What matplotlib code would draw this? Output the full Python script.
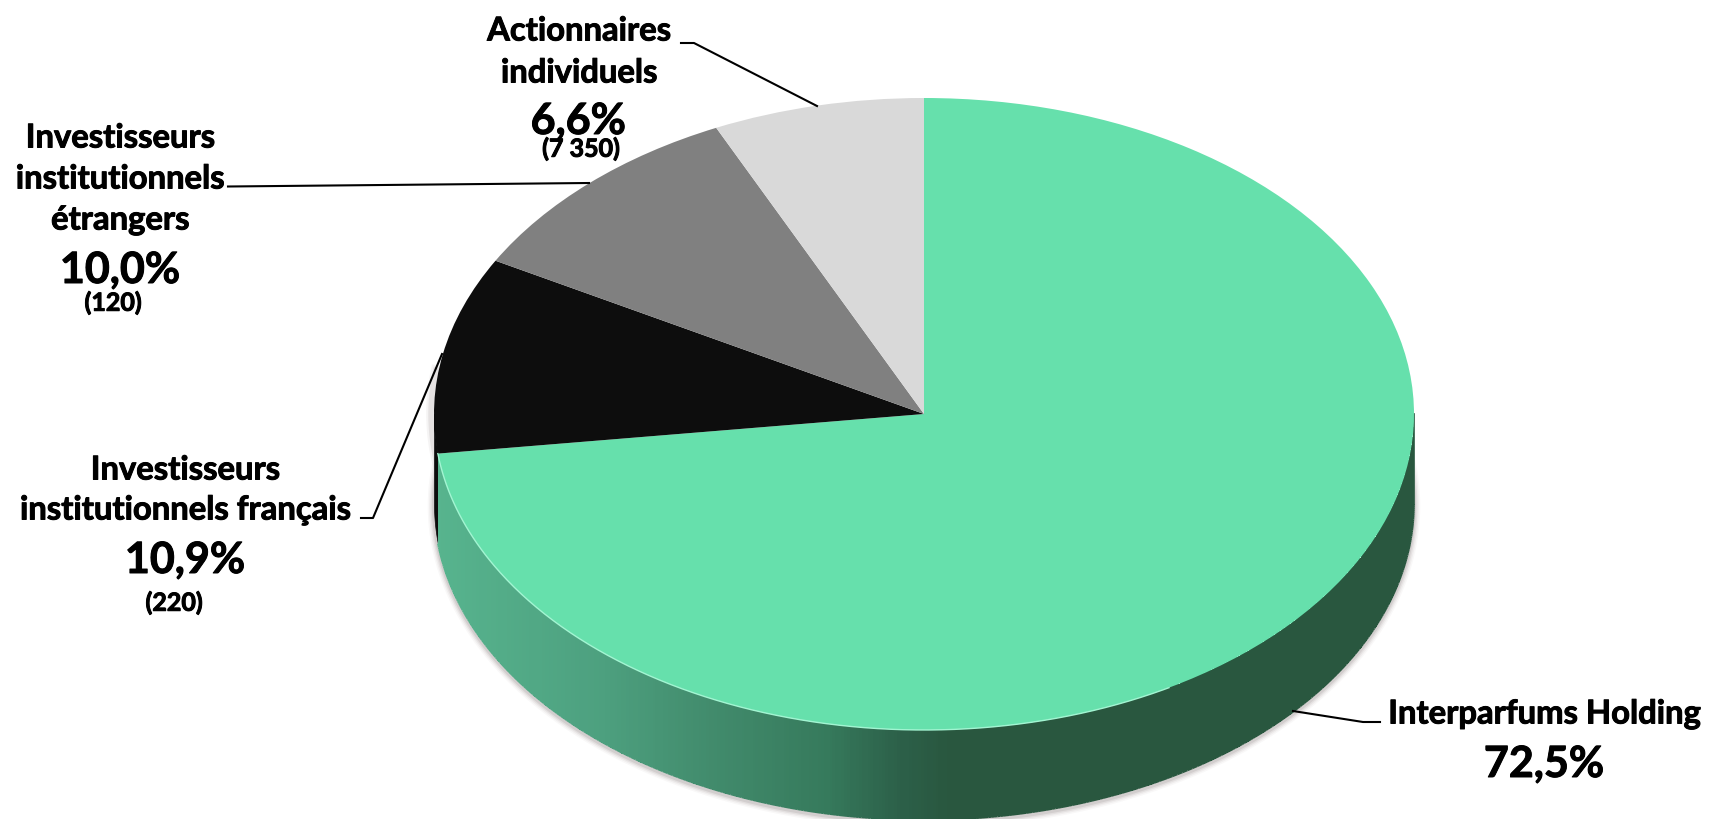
import numpy as np
import matplotlib
matplotlib.use("Agg")
import matplotlib.pyplot as plt
import matplotlib.patheffects as pe
from matplotlib.collections import LineCollection
from matplotlib.colors import LinearSegmentedColormap, Normalize

# ---- data ----
categories = ["Interparfums Holding", "Investisseurs\ninstitutionnels français",
              "Investisseurs\ninstitutionnels\nétrangers", "Actionnaires\nindividuels"]
shares = [72.5, 10.9, 10.0, 6.6]
drawn_slices = [73.0, 10.06, 9.97, 6.97]   # slice sizes as measured on the drawing
share_labels = ["72,5%", "10,9%", "10,0%", "6,6%"]
count_labels = [None, "(220)", "(120)", "(7 350)"]
colors = ["#66E0AC", "#0D0D0D", "#808080", "#D9D9D9"]

W, H = 1710, 819
CX, CY, RX, RY, DEPTH = 924, 414, 490, 316, 90
FONT = "Lato"

fig = plt.figure(figsize=(W / 100, H / 100), dpi=100, facecolor="white")
ax = fig.add_axes([0, 0, 1, 1])
ax.pie(drawn_slices, colors=colors, startangle=90, counterclock=False, radius=1,
       wedgeprops=dict(linewidth=0, zorder=5))
ax.set_aspect("auto")
ax.set_xlim(-CX / RX, (W - CX) / RX)
ax.set_ylim((CY - H) / RY, CY / RY)
ax.axis("off")

d = DEPTH / RY
green_end = 90 - drawn_slices[0] * 3.6 + 360          # ellipse angle where the main slice ends
t_green = np.radians(np.linspace(green_end, 360, 500))
t_black = np.radians(np.linspace(180, green_end, 30))
t_low = np.radians(np.linspace(172, 368, 500))

# soft shadow round the lower rim
for lw, a in [(9, .05), (7, .08), (5, .12), (3, .18)]:
    ax.plot(np.cos(t_low), np.sin(t_low) - d - .006, color="#8a7f7f", lw=lw, alpha=a,
            zorder=1, solid_capstyle="round")
t_side = np.radians(np.linspace(172, 190, 40))
for lw, a in [(7, .08), (4, .15)]:
    ax.plot(np.cos(t_side) - .006, np.sin(t_side), color="#8a7f7f", lw=lw, alpha=a, zorder=1)

# black rim on the far left
ax.fill_between(np.cos(t_black), np.sin(t_black), np.sin(t_black) - d, color=colors[1], lw=0.5, zorder=2)

# shaded rim of the main slice: colour runs with x across the rim
rim_cmap = LinearSegmentedColormap.from_list(
    "rim", [(0, "#57B48E"), (.17, "#4DA07F"), (.2775, "#428C6D"), (.4, "#367A5C"),
            (.475, "#2C6049"), (.525, "#29573F"), (1, "#29573F")])
norm = Normalize(-1, 1)
X = np.vstack([np.cos(t_green), np.cos(t_green)])
Y = np.vstack([np.sin(t_green), np.sin(t_green) - d])
xmid = (X[0, :-1] + X[0, 1:]) / 2
ax.pcolormesh(X, Y, xmid[None, :], cmap=rim_cmap, norm=norm, shading="flat",
              linewidth=0, antialiased=False, zorder=3)
# smooth outer rim edge
px, py = X[1], Y[1]
segs = np.stack([np.column_stack([px[:-1], py[:-1]]), np.column_stack([px[1:], py[1:]])], axis=1)
ax.add_collection(LineCollection(segs, array=xmid, cmap=rim_cmap, norm=norm, linewidths=1.2, zorder=4))
ax.plot([1, 1], [0, -d], color=rim_cmap(1.0), lw=1.2, zorder=4)

# bright edge along the front of the top face
t_edge = np.radians(np.linspace(green_end, 300, 300))
ax.plot(np.cos(t_edge), np.sin(t_edge), color="#A2F5D2", lw=1.0, zorder=6)

# overlay in pixel coordinates for labels and leaders
ov = fig.add_axes([0, 0, 1, 1], facecolor="none")
ov.set_xlim(0, W)
ov.set_ylim(H, 0)
ov.axis("off")

leaders = [
    ([1293, 1363, 1380], [711, 722, 722]),
    ([361, 373, 442], [518, 518, 354]),
    ([228, 589], [186.5, 183]),
    ([681, 694, 817], [43, 43, 106]),
]
for xs, ys in leaders:
    ov.plot(xs, ys, color="black", lw=1.5, zorder=7)


def put(x, y, s, size):
    ov.text(x, y, s, ha="center", va="center", fontsize=size, fontweight="bold",
            family=[FONT, "DejaVu Sans"], color="black", zorder=8,
            path_effects=[pe.withStroke(linewidth=0.7, foreground="black")])


NAME, PCT, CNT = 23.6, 31, 18
name_lines = [l for c in categories for l in c.split("\n")]
name_pos = [(1544, 714), (185, 470), (185, 510), (120, 138), (120, 179), (120, 220), (579, 31), (579, 73)]
for (x, y), s in zip(name_pos, name_lines):
    put(x, y, s, NAME)
pct_pos = [(1544, 764), (185, 560), (120, 270), (578, 121)]
for (x, y), s in zip(pct_pos, share_labels):
    put(x, y, s, PCT)
cnt_pos = [None, (174, 603), (113, 303), (581, 149)]
for p, s in zip(cnt_pos, count_labels):
    if s:
        put(p[0], p[1], s, CNT)

fig.savefig("out.png", dpi=100, facecolor="white")
